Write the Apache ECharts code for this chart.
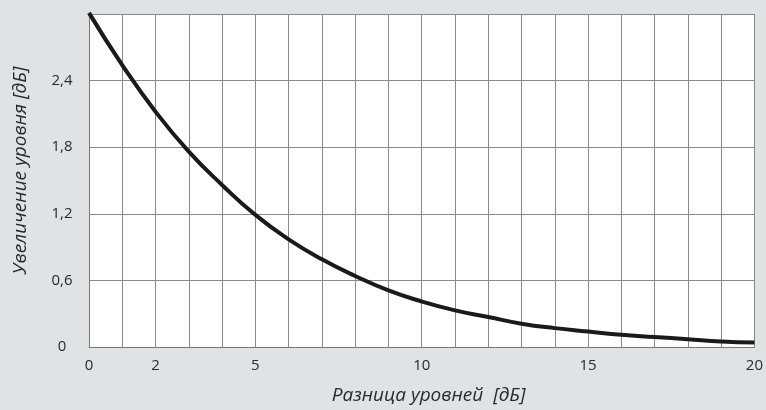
<!DOCTYPE html>
<html><head><meta charset="utf-8">
<script src="https://cdn.jsdelivr.net/npm/echarts@6/dist/echarts.min.js"></script>
<style>html,body{margin:0;padding:0;background:#e1e2e4}#c{width:766px;height:410px}</style>
</head><body><div id="c"></div>
<script>
const xValues = [0,1,2,3,4,5,6,7,8,9,10,11,12,13,14,15,16,17,18,19,20];
const yValues = [3.01,2.54,2.12,1.76,1.46,1.19,0.97,0.79,0.64,0.51,0.41,0.33,0.27,0.21,0.17,0.14,0.11,0.09,0.07,0.05,0.04];
const xTickLabels = [0,2,5,10,15,20];
const yTickLabels = ['0','0,6','1,2','1,8','2,4'];
const xName = 'Разница уровней  [дБ]';
const yName = 'Увеличение уровня [дБ]';

const chart = echarts.init(document.getElementById('c'));
const font = '"Open Sans", "Noto Sans", sans-serif';
chart.setOption({
  backgroundColor: '#e1e2e4',
  animation: false,
  grid: {left: 89, right: 9, top: 14, bottom: 59, show: true, backgroundColor: '#ffffff', borderWidth: 0},
  xAxis: {
    type: 'value', min: 0, max: 20, interval: 1,
    name: xName, nameLocation: 'middle', nameGap: 39,
    nameTextStyle: {fontFamily: font, fontStyle: 'italic', fontSize: 19, color: '#2a2a2a', padding: [0, 0, 0, 14]},
    axisLine: {show: true, lineStyle: {color: '#777', width: 1}},
    axisTick: {show: false},
    splitLine: {show: true, lineStyle: {color: '#8a8a8a', width: 1}},
    axisLabel: {
      fontFamily: font, fontSize: 15, color: '#2a2a2a', margin: 11,
      formatter: v => xTickLabels.indexOf(v) >= 0 ? String(v) : ''
    }
  },
  yAxis: {
    type: 'value', min: 0, max: 3, interval: 0.6,
    name: yName, nameLocation: 'middle', nameGap: 59,
    nameTextStyle: {fontFamily: font, fontStyle: 'italic', fontSize: 19, color: '#2a2a2a', padding: [0, 0, 0, 20]},
    axisLine: {show: true, lineStyle: {color: '#777', width: 1}},
    axisTick: {show: false},
    splitLine: {show: true, lineStyle: {color: '#8a8a8a', width: 1}},
    axisLabel: {
      fontFamily: font, fontSize: 15, color: '#2a2a2a', margin: 27, align: 'center',
      formatter: (v, i) => i < yTickLabels.length ? yTickLabels[i] : ''
    }
  },
  series: [{
    type: 'line', smooth: true, symbol: 'none', clip: false,
    lineStyle: {color: '#1a1a1a', width: 4},
    data: xValues.map((x, i) => [x, yValues[i]])
  }]
});
</script></body></html>
